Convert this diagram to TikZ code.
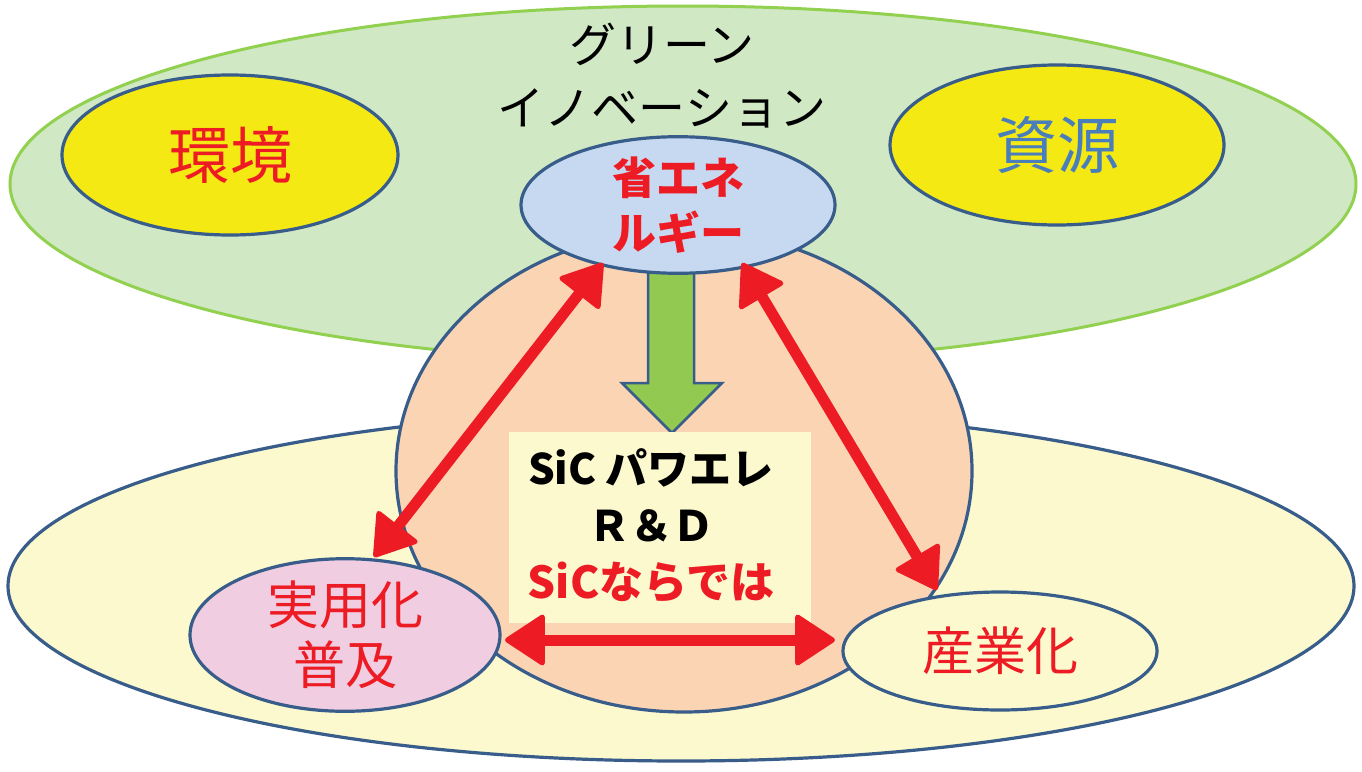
\documentclass[tikz,border=0pt]{standalone}
\usepackage{fontspec}
\setmainfont{Noto Sans CJK JP}
\usetikzlibrary{arrows.meta,shapes.geometric}
\definecolor{gfill}{RGB}{209,232,197}
\definecolor{gline}{RGB}{146,208,80}
\definecolor{yfill}{RGB}{252,249,206}
\definecolor{sfill}{RGB}{251,212,180}
\definecolor{bline}{RGB}{56,93,138}
\definecolor{yel}{RGB}{245,233,20}
\definecolor{lblue}{RGB}{198,217,241}
\definecolor{pinkf}{RGB}{240,205,225}
\definecolor{garrow}{RGB}{146,201,80}
\definecolor{jred}{RGB}{237,28,36}
\definecolor{sblue}{RGB}{74,126,187}
\definecolor{rfill}{RGB}{253,249,206}
\tikzset{
  oval/.style={ellipse, draw=bline, line width=3.2pt, inner sep=0pt},
  redarrow/.style={draw=jred, line width=11pt,
    {Triangle[round,length=42pt,width=54pt,line width=5pt]}-{Triangle[round,length=42pt,width=54pt,line width=5pt]}},
}
\begin{document}
\begin{tikzpicture}[x=1pt,y=-1pt]
\useasboundingbox (0,0) rectangle (1362,771);
\fill[white] (0,0) rectangle (1362,771);
% big ellipses
\node[ellipse, draw=gline, fill=gfill, line width=3pt, minimum width=1346pt, minimum height=356pt] (green) at (683,184) {};
\node[oval, fill=yfill, minimum width=1346pt, minimum height=350pt] (yellow) at (681,586) {};
\node[oval, fill=sfill, minimum width=576pt, minimum height=482pt] (core) at (684,471) {};
% title
\node[align=center, font=\fontsize{47}{63}\selectfont, text=black] (title) at (662,76) {グリーン\\イノベーション};
% top ellipses
\node[oval, fill=yel, minimum width=336pt, minimum height=160pt, font=\fontsize{62}{70}\selectfont, text=jred] (kankyo) at (230,155) {環境};
\node[oval, fill=yel, minimum width=334pt, minimum height=160pt, font=\fontsize{62}{70}\selectfont, text=sblue] (shigen) at (1057,145) {資源};
% green arrow
\draw[draw=bline, line width=2.5pt, fill=garrow, line join=miter]
  (648,250) -- (694,250) -- (694,383) -- (722,383) -- (672,433) -- (622,383) -- (648,383) -- cycle;
% energy saving
\node[oval, fill=lblue, minimum width=314pt, minimum height=116pt, align=center,
  font=\bfseries\fontsize{44}{55}\selectfont, text=jred] (shoene) at (678,205) {省エネ\\ルギー};
% center box
\node[fill=rfill, minimum width=302pt, minimum height=191pt, inner sep=0pt] (box) at (660,527.5) {};
\node[align=center, font=\bfseries\fontsize{42}{57}\selectfont, text=black] (boxtext) at (651,526)
  {SiC パワエレ\\Ｒ＆Ｄ\\\textcolor{jred}{\fontsize{44}{57}\selectfont SiCならでは}};
% bottom ellipses
\node[oval, fill=pinkf, minimum width=310pt, minimum height=140pt, align=center,
  font=\fontsize{52}{60}\selectfont, text=jred] (jitsuyo) at (345,635) {実用化\\普及};
\node[oval, fill=yfill, minimum width=314pt, minimum height=118pt,
  font=\fontsize{52}{60}\selectfont, text=jred] (sangyo) at (1000,651) {産業化};
% arrow end points
\coordinate (l1) at (603,263);
\coordinate (l2) at (374,557);
\coordinate (r1) at (742,263);
\coordinate (r2) at (937,590);
\coordinate (h1) at (505,640);
\coordinate (h2) at (835,640);
\draw[redarrow] (l1) -- (l2);
\draw[redarrow] (r1) -- (r2);
\draw[redarrow] (h1) -- (h2);
\end{tikzpicture}
\end{document}
